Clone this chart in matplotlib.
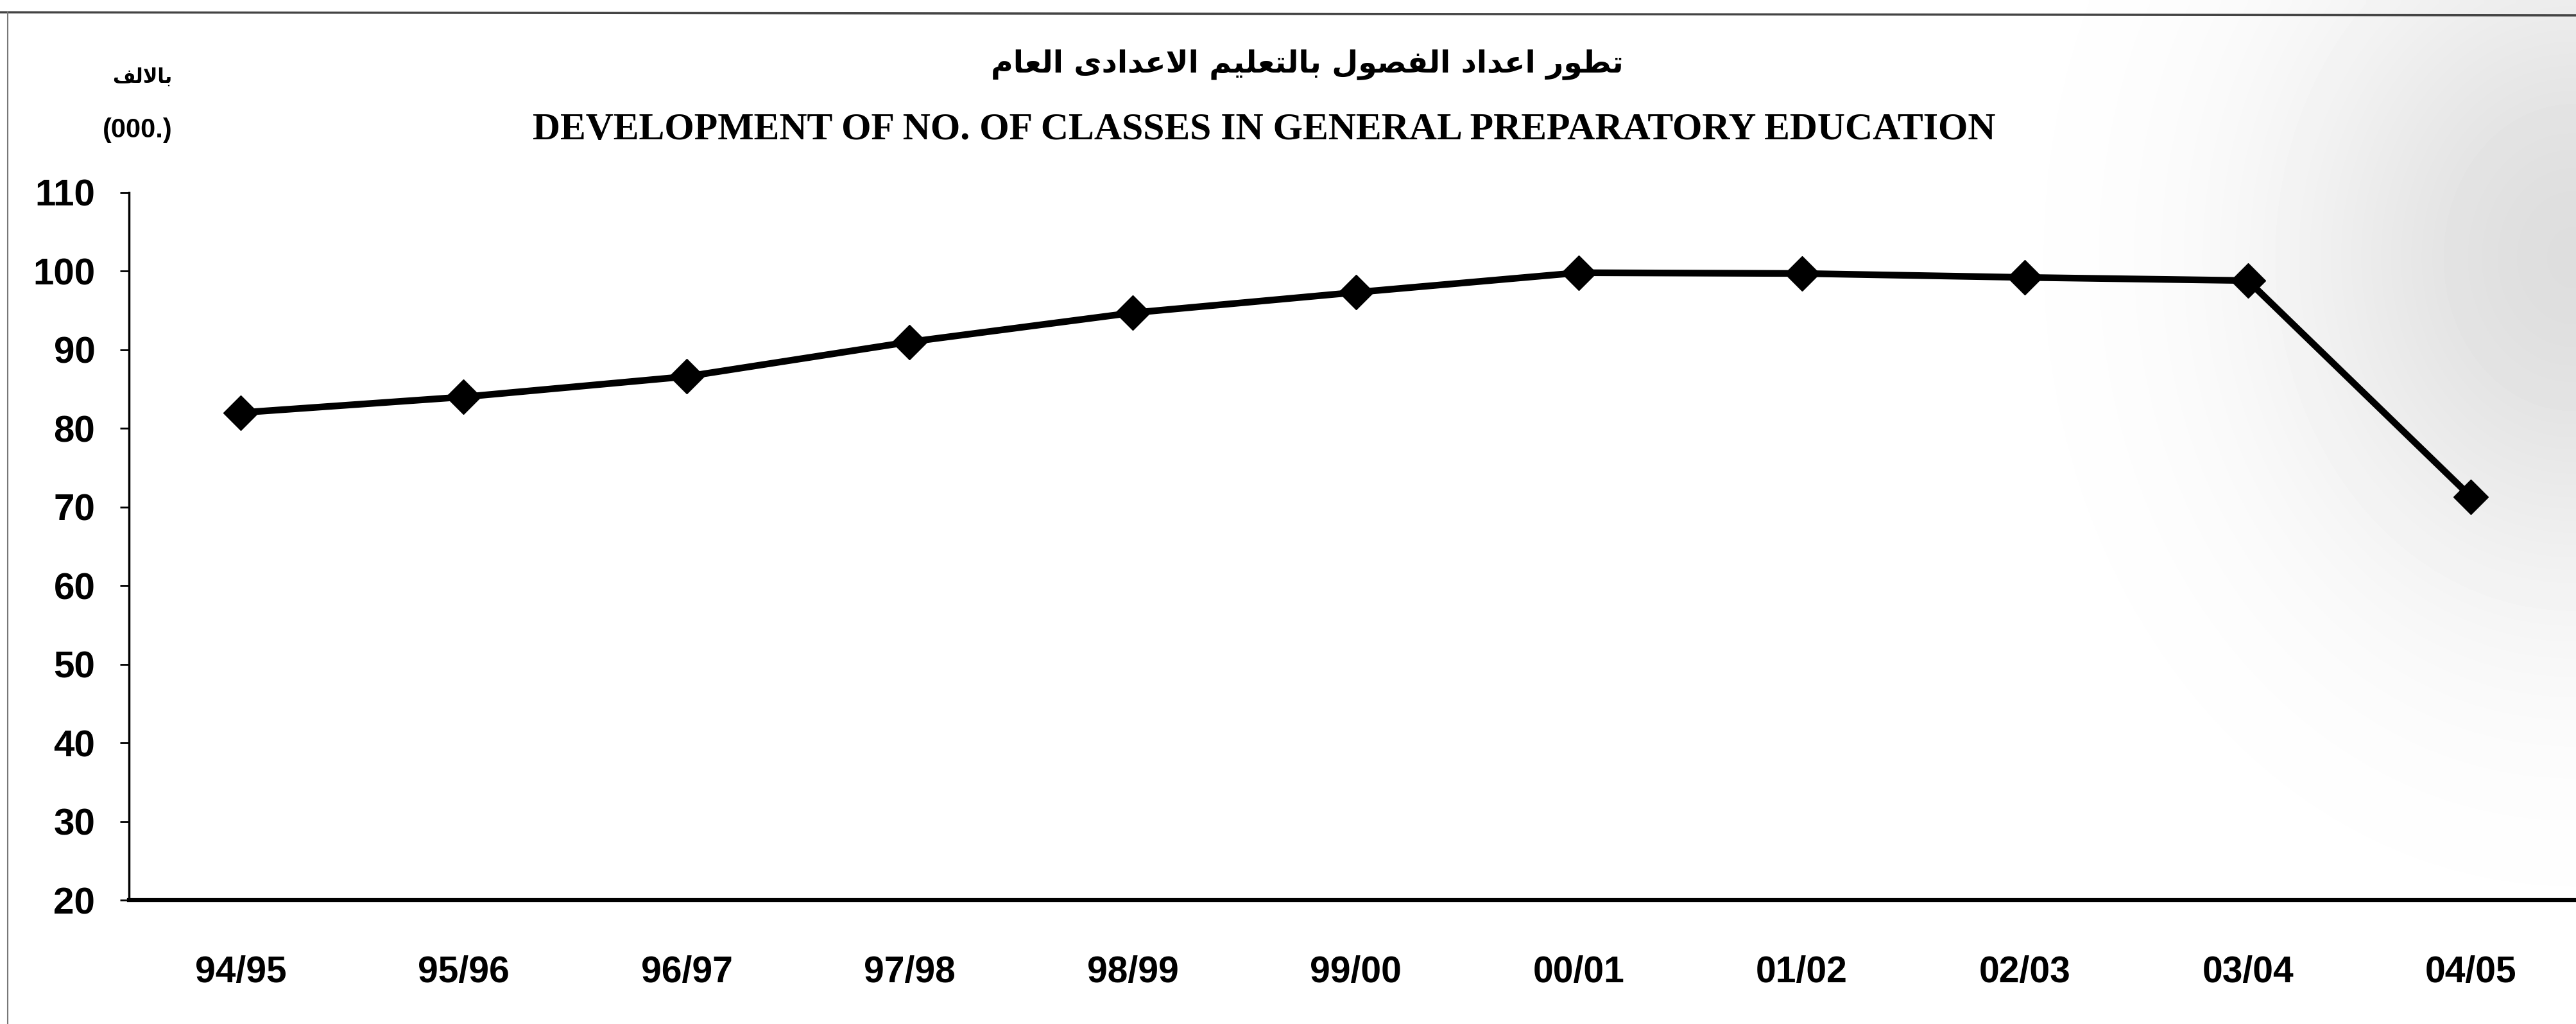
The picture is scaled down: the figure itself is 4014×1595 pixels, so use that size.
import numpy as np
import matplotlib
matplotlib.use("Agg")
import matplotlib.pyplot as plt
from matplotlib.lines import Line2D

# chart data (thousands of classes)
years = ['94/95', '95/96', '96/97', '97/98', '98/99', '99/00',
         '00/01', '01/02', '02/03', '03/04', '04/05']
classes = [82.0, 84.0, 86.6, 91.0, 94.7, 97.3, 99.8, 99.7, 99.2, 98.8, 71.3]
y_ticks = [20, 30, 40, 50, 60, 70, 80, 90, 100, 110]

title_ar = 'تطور اعداد الفصول بالتعليم الاعدادى العام'
title_en = 'DEVELOPMENT OF NO. OF CLASSES IN GENERAL PREPARATORY EDUCATION'
unit_ar = 'بالالف'
unit_en = '(000.)'

# arabic letter forms: isolated, final, initial, medial (None = does not join forward)
FORMS = {
    'ا': (0xFE8D, 0xFE8E, None, None),
    'ب': (0xFE8F, 0xFE90, 0xFE91, 0xFE92),
    'ت': (0xFE95, 0xFE96, 0xFE97, 0xFE98),
    'د': (0xFEA9, 0xFEAA, None, None),
    'ر': (0xFEAD, 0xFEAE, None, None),
    'و': (0xFEED, 0xFEEE, None, None),
    'ص': (0xFEB9, 0xFEBA, 0xFEBB, 0xFEBC),
    'ط': (0xFEC1, 0xFEC2, 0xFEC3, 0xFEC4),
    'ع': (0xFEC9, 0xFECA, 0xFECB, 0xFECC),
    'ف': (0xFED1, 0xFED2, 0xFED3, 0xFED4),
    'ل': (0xFEDD, 0xFEDE, 0xFEDF, 0xFEE0),
    'م': (0xFEE1, 0xFEE2, 0xFEE3, 0xFEE4),
    'ي': (0xFEF1, 0xFEF2, 0xFEF3, 0xFEF4),
    'ى': (0xFEEF, 0xFEF0, None, None),
}


def shape(text):
    # very small arabic shaper, returns text in visual (left-to-right) order
    out = []
    prev_joins = False
    i = 0
    while i < len(text):
        ch = text[i]
        if ch not in FORMS:
            out.append(ch)
            prev_joins = False
            i += 1
            continue
        if ch == 'ل' and i + 1 < len(text) and text[i + 1] == 'ا':
            out.append(chr(0xFEFC if prev_joins else 0xFEFB))
            prev_joins = False
            i += 2
            continue
        iso, fin, ini, med = FORMS[ch]
        nxt = text[i + 1] if i + 1 < len(text) else ''
        joins_next = ini is not None and nxt in FORMS
        if prev_joins and joins_next:
            out.append(chr(med))
        elif prev_joins:
            out.append(chr(fin))
        elif joins_next:
            out.append(chr(ini))
        else:
            out.append(chr(iso))
        prev_joins = joins_next
        i += 1
    return ''.join(reversed(out))


fig = plt.figure(figsize=(40.14, 15.95), dpi=100)
fig.patch.set_facecolor('white')

# faint scan shading on the right side
bg = fig.add_axes([0, 0, 1, 1], zorder=-5)
gx, gy = np.meshgrid(np.linspace(0, 1, 400), np.linspace(0, 1, 160))
shade = 0.13 * np.exp(-((gx - 1.0) / 0.11) ** 2 - ((gy - 0.75) / 0.33) ** 2)
bg.imshow(1 - shade, cmap='gray', vmin=0, vmax=1, aspect='auto',
          extent=[0, 1, 0, 1], origin='lower', interpolation='bilinear')
bg.set_xlim(0, 1)
bg.set_ylim(0, 1)
bg.axis('off')

# page border lines from the scan
fig.add_artist(Line2D([0, 1], [0.988, 0.985], transform=fig.transFigure, color='#444444', lw=2.5))
fig.add_artist(Line2D([0.003, 0.003], [0.0, 0.988], transform=fig.transFigure, color='#777777', lw=1.5))

ax = fig.add_axes([0.0501, 0.121, 0.9524, 0.691])
ax.patch.set_alpha(0)
x = np.arange(len(years))
ax.plot(x, classes, color='black', lw=7.5, marker='D', markersize=27,
        markerfacecolor='black', markeredgecolor='black', zorder=3)

ax.set_xlim(-0.5, len(years) - 0.5)
ax.set_ylim(20, 110)
ax.set_yticks(y_ticks)
ax.set_xticks(x)
ax.set_xticklabels(years)

for side in ['top', 'right']:
    ax.spines[side].set_visible(False)
ax.spines['left'].set_linewidth(2.5)
ax.spines['bottom'].set_linewidth(4.5)
ax.tick_params(axis='y', length=10, width=2, pad=28, labelsize=42)
ax.tick_params(axis='x', length=0, pad=62, labelsize=41)
for lab in ax.get_xticklabels() + ax.get_yticklabels():
    lab.set_fontfamily('Liberation Sans')
    lab.set_fontweight('bold')

fig.text(0.5075, 0.937, shape(title_ar), ha='center', va='center',
         fontsize=34, fontweight='bold', family=['DejaVu Sans'])
fig.text(0.4908, 0.873, title_en, ha='center', va='center',
         fontsize=43, fontweight='bold', family=['Liberation Serif', 'DejaVu Serif'])
fig.text(0.0668, 0.925, shape(unit_ar), ha='right', va='center',
         fontsize=22, fontweight='bold', family=['DejaVu Sans'])
fig.text(0.0668, 0.873, unit_en, ha='right', va='center',
         fontsize=30, fontweight='bold', family=['Liberation Sans', 'DejaVu Sans'])

fig.savefig('out.png', dpi=100)
